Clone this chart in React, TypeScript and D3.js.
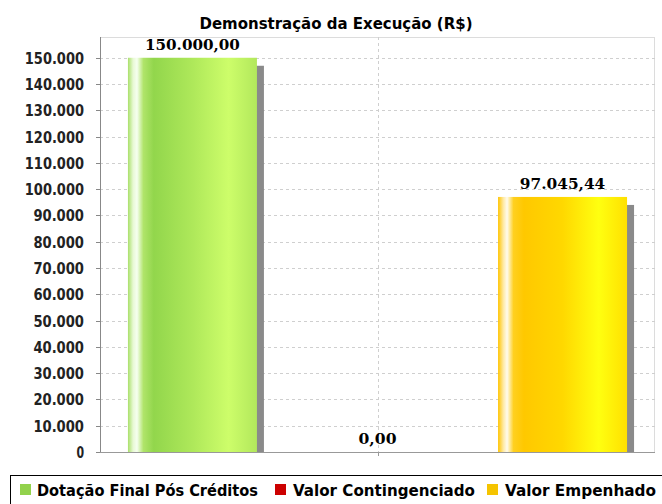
import React from "react";
import * as d3 from "d3";

const title = "Demonstração da Execução (R$)";
const categories = [""];
const seriesNames = ["Dotação Final Pós Créditos", "Valor Contingenciado", "Valor Empenhado"];
const seriesValues = [150000, 0, 97045.44];
const seriesColors = ["#92d24c", "#cc0000", "#f5c400"];
const yTicks = [0, 10000, 20000, 30000, 40000, 50000, 60000, 70000, 80000, 90000, 100000, 110000, 120000, 130000, 140000, 150000];
const yMax = 157900;

const gradStops: [number, string][][] = [
  [[0, "#a9e06a"], [0.04, "#e8f9d4"], [0.07, "#f6fff0"], [0.12, "#b0e46a"], [0.2, "#92d64c"], [0.5, "#aee85a"], [0.78, "#cdfd6a"], [1, "#b2e85c"]],
  [[0, "#cc0000"], [1, "#cc0000"]],
  [[0, "#ffc400"], [0.04, "#ffe9a0"], [0.07, "#fffbee"], [0.12, "#ffd020"], [0.2, "#ffc800"], [0.5, "#ffd800"], [0.78, "#ffff10"], [1, "#ffe000"]],
];

const locale = d3.formatLocale({ decimal: ",", thousands: ".", grouping: [3], currency: ["R$", ""] });
const fmtTick = locale.format(",d");
const fmtVal = locale.format(",.2f");

export default function App() {
  const W = 662, H = 504;
  const left = 100, right = 655, top = 37, bottom = 452;
  const y = d3.scaleLinear().domain([0, yMax]).range([bottom, top]);
  const x0 = d3.scaleBand<string>().domain(categories).range([left, right]).paddingInner(0).paddingOuter(0.056);
  const x1 = d3.scaleBand<string>().domain(seriesNames).range([0, x0.bandwidth()]).paddingInner(0.303).paddingOuter(0);
  const catCenter = (x0(categories[0]) ?? 0) + x0.bandwidth() / 2;
  const sansB = "'DejaVu Sans', sans-serif";
  const shadowDx = 7, shadowDy = 8;

  const legendX = [20, 275, 487];
  const legendTextLen = [221, 182, 151];

  return (
    <svg width={W} height={H} style={{ position: "absolute", left: 0, top: 0, background: "#fff" }}>
      <defs>
        {gradStops.map((stops, i) => (
          <linearGradient key={i} id={`g${i}`} x1="0" x2="1" y1="0" y2="0">
            {stops.map(([o, c], j) => <stop key={j} offset={o} stopColor={c} />)}
          </linearGradient>
        ))}
        <clipPath id="plotclip"><rect x={left} y={top} width={right - left} height={bottom - top} /></clipPath>
      </defs>
      <rect width={W} height={H} fill="#fff" />
      <text x={336} y={29} textAnchor="middle" fontFamily={sansB} fontWeight="bold" fontSize={15.5} textLength={273} lengthAdjust="spacingAndGlyphs">{title}</text>
      {/* plot border */}
      <rect x={left + 0.5} y={top + 0.5} width={right - left - 1} height={bottom - top} fill="none" stroke="#dcdcdc" />
      {/* grid */}
      {yTicks.filter(t => t > 0).map(t => (
        <line key={t} x1={left} x2={right} y1={Math.round(y(t)) + 0.5} y2={Math.round(y(t)) + 0.5} stroke="#cfcfcf" strokeDasharray="3,3" />
      ))}
      <line x1={Math.round(catCenter) + 0.5} x2={Math.round(catCenter) + 0.5} y1={top} y2={bottom} stroke="#cfcfcf" strokeDasharray="3,3" />
      {/* bars */}
      <g clipPath="url(#plotclip)">
        {seriesNames.map((s, i) => {
          const bx = (x0(categories[0]) ?? 0) + (x1(s) ?? 0);
          const by = y(seriesValues[i]);
          const bh = bottom - by;
          if (bh <= 0) return null;
          return (
            <g key={s}>
              <rect x={bx + shadowDx} y={by + shadowDy} width={x1.bandwidth()} height={bh} fill="#8a8a8a" />
              <rect x={bx} y={by} width={x1.bandwidth()} height={bh} fill={`url(#g${i})`} />
            </g>
          );
        })}
      </g>
      {/* value labels */}
      {seriesNames.map((s, i) => {
        const cx = (x0(categories[0]) ?? 0) + (x1(s) ?? 0) + x1.bandwidth() / 2;
        const label = fmtVal(seriesValues[i]);
        return (
          <text key={s} x={cx} y={y(seriesValues[i]) - 8} textAnchor="middle" fontFamily="'DejaVu Serif', serif" fontWeight="bold" fontSize={14} textLength={label.length * 9.5} lengthAdjust="spacingAndGlyphs">{label}</text>
        );
      })}
      {/* axes */}
      <line x1={left + 0.5} x2={left + 0.5} y1={top} y2={bottom} stroke="#888" />
      <line x1={left} x2={right} y1={bottom + 0.5} y2={bottom + 0.5} stroke="#999" />
      <line x1={Math.round(catCenter) + 0.5} x2={Math.round(catCenter) + 0.5} y1={bottom} y2={bottom + 4} stroke="#999" />
      {yTicks.map(t => {
        const yy = Math.round(y(t)) + 0.5;
        const lab = fmtTick(t);
        return (
          <g key={t}>
            <line x1={left - 4} x2={left} y1={yy} y2={yy} stroke="#888" />
            <text x={84} y={yy + 5.5} textAnchor="end" fill="#222" fontFamily={sansB} fontWeight="bold" fontSize={15} textLength={lab.length * 8.6 - 1} lengthAdjust="spacingAndGlyphs">{lab}</text>
          </g>
        );
      })}
      {/* legend */}
      <rect x={10.5} y={475.5} width={700} height={60} fill="none" stroke="#000" />
      {seriesNames.map((s, i) => (
        <g key={s}>
          <rect x={legendX[i]} y={484} width={11} height={11} fill={seriesColors[i]} />
          <text x={legendX[i] + (i === 0 ? 17 : 18)} y={496} fontFamily={sansB} fontWeight="bold" fontSize={15.5} textLength={legendTextLen[i]} lengthAdjust="spacingAndGlyphs">{s}</text>
        </g>
      ))}
    </svg>
  );
}
